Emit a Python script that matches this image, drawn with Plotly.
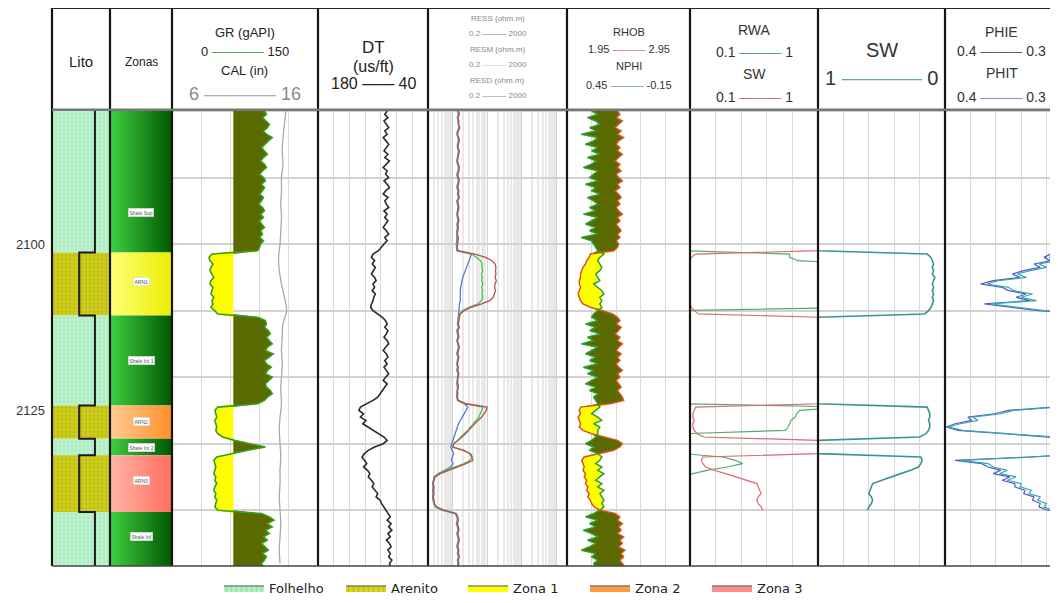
import numpy as np
import plotly.graph_objects as go

# ------------------------------------------------------------------ data
DEPTH = np.arange(2080.0, 2148.51, 0.5)          # log sample depths (m)
CAL_DEPTH = np.arange(2080.0, 2148.1, 2.0)       # caliper read every 2 m

ZONE_NAMES = ["Shale Sup", "ARN1", "Shale Int 1", "ARN2", "Shale Int 2", "ARN3", "Shale Inf"]
ZONE_TOPS = [2080.0, 2101.25, 2110.75, 2124.25, 2129.25, 2131.75, 2140.25]
ZONE_BASES = [2101.25, 2110.75, 2124.25, 2129.25, 2131.75, 2140.25, 2148.4]
ZONE_LITHO = ["Folhelho", "Arenito", "Folhelho", "Arenito", "Folhelho", "Arenito", "Folhelho"]
ZONE_CLASS = ["shale", "Zona 1", "shale", "Zona 2", "shale", "Zona 3", "shale"]
ZONE_LABEL_DEPTH = [2095.2, 2105.7, 2117.5, 2126.7, 2130.5, 2135.6, 2143.9]
LITHO_CURVE = {"Folhelho": 0.74, "Arenito": 0.47}   # lithology flag curve value

DEPTH_TICKS = [2100, 2125]

GR = [95, 97, 93, 96, 100, 98, 94, 97, 103, 99, 96, 92, 95, 98, 94, 91, 95, 97, 93, 90,
      94, 96, 92, 95, 93, 90, 94, 92, 89, 93, 95, 91, 94, 90, 92, 95, 91, 93, 90, 94,
      91, 90, 88,
      41, 38, 39, 42, 40, 39, 41, 43, 40, 39, 42, 41, 40, 43, 41, 42, 40, 44, 47,
      88, 96, 97, 95, 99, 101, 97, 100, 103, 98, 96, 104, 99, 95, 97, 102, 98, 96, 103, 99,
      96, 97, 101, 103, 98, 95, 88,
      47, 44, 45, 46, 44, 45, 46, 45, 47, 52,
      64, 80, 96, 78, 60,
      46, 43, 44, 45, 44, 43, 45, 44, 46, 44, 43, 45, 44, 46, 45, 44, 47,
      92, 100, 105, 98, 103, 96, 100, 94, 98, 92, 96, 99, 93, 97, 95, 92, 94]

CAL = [13.8, 13.7, 13.6, 13.55, 13.6, 13.5, 13.5, 13.45, 13.5, 13.45, 13.4, 13.3, 13.35,
       13.5, 13.7, 13.85, 13.6, 13.55, 13.5, 13.55, 13.5, 13.45, 13.5, 13.4, 13.35, 13.4,
       13.45, 13.4, 13.4, 13.35, 13.4, 13.45, 13.4, 13.35, 13.4]

DT = [92, 95, 91, 96, 93, 90, 95, 92, 97, 94, 90, 93, 96, 91, 95, 89, 93, 97, 92, 94,
      90, 96, 92, 89, 94, 97, 91, 95, 93, 90, 96, 92, 95, 91, 94, 97, 93, 90, 95, 92,
      96, 99, 103,
      110, 112, 108, 111, 107, 109, 112, 108, 106, 110, 108, 111, 107, 109, 110, 112, 113, 110, 104,
      98, 94, 92, 95, 91, 93, 96, 92, 90, 94, 97, 93, 91, 95, 92, 96, 93, 90, 94, 97,
      92, 95, 98, 100, 104, 110, 118,
      126, 128, 122, 126, 119, 123, 116, 110, 102, 96,
      92, 97, 108, 116, 121,
      124, 121, 118, 122, 117, 114, 116, 112, 109, 111, 107, 104, 106, 101, 99, 96, 93,
      91, 88, 92, 87, 90, 86, 91, 88, 93, 89, 87, 91, 88, 90, 86, 89, 88]

RESD = [1.5, 1.6, 1.45, 1.55, 1.5, 1.65, 1.5, 1.4, 1.55, 1.6, 1.5, 1.45, 1.6, 1.55, 1.5, 1.4,
        1.5, 1.6, 1.55, 1.45, 1.5, 1.6, 1.5, 1.45, 1.55, 1.5, 1.6, 1.45, 1.5, 1.55, 1.5, 1.4,
        1.5, 1.55, 1.45, 1.5, 1.45, 1.4, 1.5, 1.45, 1.4, 1.4, 1.45,
        4.5, 9, 14, 17, 18, 17.5, 18, 17, 18.5, 17, 16.5, 17.5, 16, 15, 12, 7, 3.5, 2.2, 1.7,
        1.6, 1.55, 1.5, 1.6, 1.45, 1.5, 1.55, 1.4, 1.5, 1.6, 1.5, 1.45, 1.55, 1.5, 1.4, 1.5,
        1.45, 1.55, 1.5, 1.4, 1.45, 1.5, 1.4, 1.45, 1.4, 1.5, 2.5,
        10, 9.5, 8, 7, 5.5, 4.5, 3.8, 3, 2.4, 1.9,
        1.5, 1.1, 1.05, 2.2, 3.2,
        3.6, 3.9, 2.5, 1.4, 0.7, 0.45, 0.32, 0.3, 0.28, 0.3, 0.29, 0.3, 0.28, 0.3, 0.31, 0.35, 0.6,
        1.3, 1.45, 1.5, 1.4, 1.5, 1.55, 1.45, 1.5, 1.6, 1.5, 1.45, 1.55, 1.5, 1.6, 1.5, 1.55, 1.5]

RESM = [1.45, 1.55, 1.4, 1.5, 1.5, 1.6, 1.45, 1.4, 1.5, 1.55, 1.45, 1.45, 1.55, 1.5, 1.45, 1.4,
        1.45, 1.55, 1.5, 1.4, 1.45, 1.55, 1.45, 1.4, 1.5, 1.45, 1.55, 1.4, 1.45, 1.5, 1.45, 1.4,
        1.45, 1.5, 1.4, 1.45, 1.4, 1.4, 1.45, 1.4, 1.35, 1.4, 1.4,
        3.7, 5, 6.5, 7.2, 7, 7.5, 6.8, 7.3, 7.0, 7.6, 6.9, 7.4, 7.1, 7.5, 6.8, 5.5, 3, 2, 1.6,
        1.55, 1.5, 1.45, 1.55, 1.4, 1.45, 1.5, 1.4, 1.45, 1.55, 1.45, 1.4, 1.5, 1.45, 1.4, 1.45,
        1.4, 1.5, 1.45, 1.4, 1.4, 1.45, 1.4, 1.4, 1.4, 1.45, 2.4,
        7.7, 7, 6.3, 5.8, 4.8, 4, 3.4, 2.8, 2.2, 1.8,
        1.4, 1.1, 1.0, 2.0, 3.4,
        3.8, 3.2, 2.2, 1.2, 0.65, 0.42, 0.3, 0.29, 0.28, 0.29, 0.28, 0.29, 0.28, 0.29, 0.3, 0.34, 0.55,
        1.25, 1.4, 1.45, 1.35, 1.45, 1.5, 1.4, 1.45, 1.55, 1.45, 1.4, 1.5, 1.45, 1.55, 1.45, 1.5, 1.45]

RESS = [1.4, 1.5, 1.4, 1.45, 1.45, 1.55, 1.4, 1.35, 1.45, 1.5, 1.4, 1.4, 1.5, 1.45, 1.4, 1.35,
        1.4, 1.5, 1.45, 1.35, 1.4, 1.5, 1.4, 1.35, 1.45, 1.4, 1.5, 1.35, 1.4, 1.45, 1.4, 1.35,
        1.4, 1.45, 1.35, 1.4, 1.35, 1.35, 1.4, 1.35, 1.3, 1.35, 1.35,
        3.6, 3.3, 3.0, 2.8, 2.6, 2.4, 2.2, 2.0, 1.9, 1.8, 1.75, 1.7, 1.7, 1.65, 1.7, 1.6, 1.6, 1.55, 1.5,
        1.5, 1.45, 1.4, 1.5, 1.35, 1.4, 1.45, 1.35, 1.4, 1.5, 1.4, 1.35, 1.45, 1.4, 1.35, 1.4,
        1.35, 1.45, 1.4, 1.35, 1.35, 1.4, 1.35, 1.35, 1.35, 1.4, 2.2,
        2.8, 2.5, 2.2, 1.9, 1.7, 1.5, 1.4, 1.3, 1.2, 1.1,
        1.05, 0.95, 0.9, 1.0, 1.1,
        1.0, 0.95, 1.05, 0.9, 0.6, 0.4, 0.3, 0.28, 0.27, 0.28, 0.27, 0.28, 0.27, 0.28, 0.29, 0.33, 0.5,
        1.2, 1.35, 1.4, 1.3, 1.4, 1.45, 1.35, 1.4, 1.5, 1.4, 1.35, 1.45, 1.4, 1.5, 1.4, 1.45, 1.4]

RHOB = [2.36, 2.38, 2.35, 2.40, 2.37, 2.34, 2.39, 2.36, 2.41, 2.37, 2.35, 2.38, 2.36, 2.40, 2.37,
        2.34, 2.38, 2.36, 2.39, 2.35, 2.37, 2.40, 2.36, 2.38, 2.34, 2.37, 2.39, 2.36, 2.38, 2.35,
        2.37, 2.40, 2.36, 2.38, 2.35, 2.37, 2.39, 2.36, 2.38, 2.35, 2.37, 2.36, 2.33,
        2.14, 2.13, 2.11, 2.10, 2.08, 2.07, 2.06, 2.06, 2.05, 2.05, 2.06, 2.05, 2.04, 2.05, 2.06,
        2.08, 2.14, 2.24, 2.32,
        2.36, 2.38, 2.35, 2.39, 2.37, 2.34, 2.38, 2.36, 2.40, 2.37, 2.35, 2.39, 2.36, 2.38, 2.35,
        2.37, 2.40, 2.36, 2.38, 2.35, 2.37, 2.39, 2.36, 2.38, 2.40, 2.41, 2.30,
        2.06, 2.05, 2.06, 2.04, 2.05, 2.06, 2.05, 2.08, 2.15, 2.25,
        2.36, 2.40, 2.38, 2.33, 2.20,
        2.09, 2.07, 2.08, 2.09, 2.08, 2.10, 2.09, 2.11, 2.10, 2.12, 2.11, 2.13, 2.12, 2.14, 2.15,
        2.17, 2.22,
        2.34, 2.38, 2.36, 2.40, 2.37, 2.39, 2.36, 2.41, 2.38, 2.40, 2.37, 2.42, 2.39, 2.41, 2.38,
        2.40, 2.42]

NPHI = [0.33, 0.30, 0.35, 0.31, 0.29, 0.34, 0.31, 0.38, 0.30, 0.32, 0.36, 0.30, 0.33, 0.29, 0.35,
        0.31, 0.33, 0.37, 0.30, 0.32, 0.34, 0.30, 0.36, 0.31, 0.33, 0.29, 0.35, 0.32, 0.30, 0.34,
        0.31, 0.37, 0.30, 0.33, 0.36, 0.31, 0.34, 0.30, 0.38, 0.33, 0.32, 0.31, 0.30,
        0.27, 0.29, 0.30, 0.29, 0.28, 0.29, 0.31, 0.30, 0.29, 0.32, 0.30, 0.28, 0.27, 0.29, 0.28,
        0.29, 0.28, 0.30, 0.32,
        0.33, 0.30, 0.36, 0.31, 0.34, 0.29, 0.35, 0.32, 0.38, 0.30, 0.33, 0.36, 0.31, 0.34, 0.30,
        0.37, 0.32, 0.35, 0.30, 0.33, 0.36, 0.31, 0.34, 0.30, 0.32, 0.31, 0.30,
        0.29, 0.31, 0.33, 0.30, 0.28, 0.32, 0.29, 0.30, 0.30, 0.31,
        0.33, 0.36, 0.32, 0.34, 0.30,
        0.28, 0.29, 0.31, 0.28, 0.30, 0.27, 0.29, 0.31, 0.28, 0.30, 0.27, 0.29, 0.28, 0.27, 0.28,
        0.27, 0.29,
        0.32, 0.36, 0.30, 0.34, 0.31, 0.37, 0.33, 0.30, 0.35, 0.31, 0.34, 0.38, 0.31, 0.33, 0.30,
        0.32, 0.31]

# Water saturation (shown in RWA/SW track and in SW track)
SW_DEPTH = [2080.0, 2101.0,
            2101.5, 2102.0, 2102.5, 2103.0, 2103.5, 2104.0, 2104.5, 2105.0, 2105.5, 2106.0,
            2106.5, 2107.0, 2107.5, 2108.0, 2108.5, 2109.0, 2109.5, 2110.0, 2110.5,
            2111.0, 2124.0,
            2124.5, 2125.0, 2125.5, 2126.0, 2126.5, 2127.0, 2127.5, 2128.0, 2128.5, 2129.0,
            2129.5, 2131.5,
            2132.0, 2132.5, 2133.0, 2133.5, 2134.0, 2134.5, 2135.0, 2135.5, 2136.0, 2136.5,
            2137.0, 2137.5, 2138.0, 2138.5, 2139.0, 2139.5, 2140.0]
SW = [1.0, 1.0,
      0.14, 0.11, 0.10, 0.09, 0.10, 0.09, 0.10, 0.08, 0.09, 0.10,
      0.09, 0.10, 0.09, 0.10, 0.09, 0.10, 0.11, 0.13, 0.16,
      1.0, 1.0,
      0.14, 0.13, 0.12, 0.12, 0.13, 0.12, 0.12, 0.13, 0.15, 0.20,
      1.0, 1.0,
      0.19, 0.18, 0.19, 0.21, 0.27, 0.35, 0.42, 0.50, 0.57, 0.58,
      0.59, 0.60, 0.58, 0.57, 0.58, 0.60, 0.61]

RWA_DEPTH = [2101.0, 2101.5, 2102.0, 2102.5, 2103.0, 2109.5, 2110.0, None,
             2124.0, 2124.5, 2125.0, 2125.5, 2126.0, 2126.5, 2127.0, 2127.5, 2128.0, 2128.5, None,
             2131.5, 2132.0, 2132.5, 2133.0, 2133.5, 2134.0, 2134.5, 2135.0]
RWA = [0.05, 0.80, 0.80, 0.86, 1.3, 1.3, 0.05, None,
       0.05, 1.2, 0.87, 0.85, 0.84, 0.81, 0.80, 0.79, 0.77, 0.05, None,
       0.05, 0.33, 0.42, 0.47, 0.36, 0.22, 0.12, 0.05]

PHI_DEPTH = [2101.0, 2101.5, 2102.0, 2102.5, 2103.0, 2103.5, 2104.0, 2104.5, 2105.0, 2105.5,
             2106.0, 2106.5, 2107.0, 2107.5, 2108.0, 2108.5, 2109.0, 2109.5, 2110.0, 2110.5, None,
             2124.0, 2124.5, 2125.0, 2125.5, 2126.0, 2126.5, 2127.0, 2127.5, 2128.0, 2128.5,
             2129.0, 2129.5, None,
             2131.5, 2132.0, 2132.5, 2133.0, 2133.5, 2134.0, 2134.5, 2135.0, 2135.5, 2136.0,
             2136.5, 2137.0, 2137.5, 2138.0, 2138.5, 2139.0, 2139.5, 2140.0, 2140.5]
PHIE = [0.29, 0.313, 0.318, 0.312, 0.326, 0.320, 0.333, 0.343, 0.336, 0.358,
        0.367, 0.350, 0.346, 0.331, 0.340, 0.328, 0.364, 0.341, 0.322, 0.29, None,
        0.29, 0.312, 0.346, 0.356, 0.378, 0.374, 0.388, 0.397, 0.386, 0.346, 0.314, 0.29, None,
        0.29, 0.33, 0.388, 0.366, 0.362, 0.351, 0.357, 0.344, 0.351, 0.340,
        0.341, 0.332, 0.334, 0.325, 0.327, 0.320, 0.322, 0.315, 0.29]
PHIT = [0.29, 0.317, 0.322, 0.317, 0.330, 0.325, 0.338, 0.347, 0.341, 0.362,
        0.372, 0.355, 0.350, 0.336, 0.344, 0.333, 0.369, 0.346, 0.326, 0.29, None,
        0.29, 0.315, 0.350, 0.361, 0.382, 0.379, 0.392, 0.399, 0.390, 0.350, 0.318, 0.29, None,
        0.29, 0.334, 0.392, 0.371, 0.366, 0.356, 0.362, 0.349, 0.355, 0.345,
        0.345, 0.337, 0.338, 0.330, 0.331, 0.325, 0.326, 0.319, 0.29]

GR_CUTOFF = 63.0          # shale / sand baseline for GR shading

for arr in (GR, DT, RESD, RESM, RESS, RHOB, NPHI):
    assert len(arr) == len(DEPTH), len(arr)

# ------------------------------------------------------------------ layout geometry
# page body has an 8 px margin; the figure is sized to fill the rest of the window
PAGE_OFF = 8
W, H = 1058 - PAGE_OFF, 603 - PAGE_OFF
EDGES = [52, 110, 172, 318, 428, 567, 690, 818, 945, 1058]   # track borders (window px)
HDR_TOP, DATA_TOP, DATA_BOT = 8, 110, 568
Y_RANGE = [2148.4, 2079.8]


def fx(p):
    return (p - PAGE_OFF) / W


def fy(p):
    return 1 - (p - PAGE_OFF) / H


# colours
OLIVE = "#5a6a00"
GR_LINE = "#3c9c1c"
YELLOW = "#ffff00"
FOL_BG, FOL_FG = "#aaecbe", "#e4fff0"
ARE_BG, ARE_FG = "#d4d420", "#9c9c00"
ZONE_GRAD = {"shale": ["#3fd03f", "#005800"], "Zona 1": ["#ffff78", "#ecec00"],
             "Zona 2": ["#ffcc94", "#ff9028"], "Zona 3": ["#ffb6a6", "#ff6e60"]}
LEG_COL = {"Zona 1": "#ffff00", "Zona 2": "#ff9a3c", "Zona 3": "#ff8a8a"}
GRID = "#d9d9d9"

fig = go.Figure()

# legend-only entries
for name, bg, fg in [("Folhelho", "#b4f0bc", "#86d08e"), ("Arenito", "#d8d820", "#a8a800")]:
    fig.add_trace(go.Scatter(x=[None], y=[None], mode="lines", fill="toself", name=name,
                             fillcolor=bg, line=dict(color="#555", width=1),
                             fillpattern=dict(shape="|", bgcolor=bg, fgcolor=fg, size=5, solidity=0.3),
                             xaxis="x", yaxis="y", hoverinfo="skip"))
for name in ["Zona 1", "Zona 2", "Zona 3"]:
    fig.add_trace(go.Scatter(x=[None], y=[None], mode="lines", fill="toself", name=name,
                             fillcolor=LEG_COL[name], line=dict(color="#555", width=1),
                             xaxis="x", yaxis="y", hoverinfo="skip"))

# ---- Track 1: lithology
for top, base, lit in zip(ZONE_TOPS, ZONE_BASES, ZONE_LITHO):
    bg, fg = (FOL_BG, FOL_FG) if lit == "Folhelho" else (ARE_BG, ARE_FG)
    fig.add_trace(go.Scatter(x=[0, 1, 1, 0, 0], y=[top, top, base, base, top], mode="lines",
                             fill="toself", fillcolor=bg, line=dict(width=0),
                             fillpattern=dict(shape="+", bgcolor=bg, fgcolor=fg, size=4, solidity=0.45),
                             showlegend=False, xaxis="x", yaxis="y", hoverinfo="skip"))
lx, ly = [], []
for top, base, lit in zip(ZONE_TOPS, ZONE_BASES, ZONE_LITHO):
    lx += [LITHO_CURVE[lit], LITHO_CURVE[lit]]
    ly += [top, base]
fig.add_trace(go.Scatter(x=lx, y=ly, mode="lines", line=dict(color="#1a1a1a", width=2),
                         showlegend=False, xaxis="x", yaxis="y"))

# ---- Track 2: zones
for top, base, cls in zip(ZONE_TOPS, ZONE_BASES, ZONE_CLASS):
    c0, c1 = ZONE_GRAD[cls]
    fig.add_trace(go.Scatter(x=[0, 1, 1, 0, 0], y=[top, top, base, base, top], mode="lines",
                             fill="toself", fillcolor=c1, line=dict(width=0),
                             fillgradient=dict(type="horizontal", colorscale=[[0, c0], [1, c1]]),
                             showlegend=False, xaxis="x2", yaxis="y2", hoverinfo="skip"))

# ---- Track 3: GR + CAL
gr = np.array(GR, dtype=float)
base_line = np.full(len(DEPTH), GR_CUTOFF)
poly_y = np.concatenate([DEPTH, DEPTH[::-1]])
fig.add_trace(go.Scatter(x=np.concatenate([np.maximum(gr, GR_CUTOFF), base_line[::-1]]), y=poly_y,
                         mode="lines", fill="toself", fillcolor=OLIVE, line=dict(width=0),
                         showlegend=False, xaxis="x3", yaxis="y3", hoverinfo="skip"))
fig.add_trace(go.Scatter(x=np.concatenate([np.minimum(gr, GR_CUTOFF), base_line[::-1]]), y=poly_y,
                         mode="lines", fill="toself", fillcolor=YELLOW, line=dict(width=0),
                         showlegend=False, xaxis="x3", yaxis="y3", hoverinfo="skip"))
fig.add_trace(go.Scatter(x=GR, y=DEPTH, mode="lines", line=dict(color=GR_LINE, width=1.6),
                         showlegend=False, xaxis="x3", yaxis="y3"))
fig.add_trace(go.Scatter(x=CAL, y=CAL_DEPTH, mode="lines",
                         line=dict(color="#a8a8a8", width=1.3, shape="spline"),
                         showlegend=False, xaxis="x10", yaxis="y3"))

# ---- Track 4: DT
fig.add_trace(go.Scatter(x=DT, y=DEPTH, mode="lines", line=dict(color="#2a2a2a", width=1.6),
                         showlegend=False, xaxis="x4", yaxis="y4"))

# ---- Track 5: resistivities
for arr, col in [(RESS, "#5a7ad0"), (RESM, "#48c048"), (RESD, "#b8505a")]:
    fig.add_trace(go.Scatter(x=arr, y=DEPTH, mode="lines", line=dict(color=col, width=1.3),
                             showlegend=False, xaxis="x5", yaxis="y5"))

# ---- Track 6: RHOB / NPHI with crossover shading
rhob = np.array(RHOB)
nphi_on_rhob = 1.95 + (0.45 - np.array(NPHI)) / 0.6 * 1.0   # NPHI expressed on RHOB scale
fig.add_trace(go.Scatter(x=np.concatenate([rhob, np.minimum(nphi_on_rhob, rhob)[::-1]]), y=poly_y,
                         mode="lines", fill="toself", fillcolor=OLIVE, line=dict(width=0),
                         showlegend=False, xaxis="x6", yaxis="y6", hoverinfo="skip"))
fig.add_trace(go.Scatter(x=np.concatenate([rhob, np.maximum(nphi_on_rhob, rhob)[::-1]]), y=poly_y,
                         mode="lines", fill="toself", fillcolor=YELLOW, line=dict(width=0),
                         showlegend=False, xaxis="x6", yaxis="y6", hoverinfo="skip"))
fig.add_trace(go.Scatter(x=NPHI, y=DEPTH, mode="lines", line=dict(color="#2e9e2e", width=1.5),
                         showlegend=False, xaxis="x11", yaxis="y6"))
fig.add_trace(go.Scatter(x=RHOB, y=DEPTH, mode="lines", line=dict(color="#d9541e", width=1.5),
                         showlegend=False, xaxis="x6", yaxis="y6"))

# ---- Track 7: RWA + SW
fig.add_trace(go.Scatter(x=RWA, y=RWA_DEPTH, mode="lines", line=dict(color="#58a870", width=1.2),
                         showlegend=False, xaxis="x7", yaxis="y7"))
fig.add_trace(go.Scatter(x=SW, y=SW_DEPTH, mode="lines", line=dict(color="#d86a72", width=1.2),
                         showlegend=False, xaxis="x7", yaxis="y7"))

# ---- Track 8: SW
fig.add_trace(go.Scatter(x=SW, y=SW_DEPTH, mode="lines", line=dict(color="#3a9494", width=1.6),
                         showlegend=False, xaxis="x8", yaxis="y8"))

# ---- Track 9: PHIE / PHIT
fig.add_trace(go.Scatter(x=PHIT, y=PHI_DEPTH, mode="lines", line=dict(color="#4a5cc0", width=1.2),
                         showlegend=False, xaxis="x9", yaxis="y9"))
fig.add_trace(go.Scatter(x=PHIE, y=PHI_DEPTH, mode="lines", line=dict(color="#3aa6b0", width=1.2),
                         showlegend=False, xaxis="x9", yaxis="y9"))

# ------------------------------------------------------------------ axes
x_specs = {
    1: dict(range=[0, 1], showgrid=False),
    2: dict(range=[0, 1], showgrid=False),
    3: dict(range=[0, 150], tick0=0, dtick=30),
    4: dict(range=[180, 40], tick0=40, dtick=20),
    5: dict(type="log", range=[np.log10(0.2), np.log10(2000)], dtick=1, gridcolor="#d0d0d0",
            minor=dict(showgrid=True, dtick="D1", gridcolor="#e9e9e9", gridwidth=1.6)),
    6: dict(range=[1.95, 2.95], tick0=1.95, dtick=0.2),
    7: dict(range=[0.1, 1.0], tick0=0.1, dtick=0.18),
    8: dict(range=[1, 0], tick0=0, dtick=0.2),
    9: dict(range=[0.4, 0.4 - 0.1 * 113 / 127], tick0=0.4, dtick=0.02),
}
lay = {}
for i in range(1, 10):
    spec = dict(domain=[fx(EDGES[i - 1]), fx(EDGES[i])], anchor=f"y{i}" if i > 1 else "y",
                showticklabels=False, ticks="", zeroline=False, showline=False,
                showgrid=True, gridcolor=GRID, gridwidth=1.2, fixedrange=True)
    spec.update(x_specs[i])
    lay["xaxis" if i == 1 else f"xaxis{i}"] = spec
    yspec = dict(domain=[fy(DATA_BOT), fy(DATA_TOP)], range=Y_RANGE, autorange=False,
                 anchor="x" if i == 1 else f"x{i}", zeroline=False, showline=False, ticks="",
                 fixedrange=True)
    if i == 1:
        yspec.update(tickvals=DEPTH_TICKS, showticklabels=True, showgrid=False, ticklabelstandoff=6,
                     tickfont=dict(size=13, color="#333", family="Liberation Sans, Arial"))
    else:
        yspec.update(matches="y", showticklabels=False,
                     showgrid=i > 2, tick0=2080, dtick=10, gridcolor="#d2d2d2", gridwidth=1.5)
    lay["yaxis" if i == 1 else f"yaxis{i}"] = yspec

lay["xaxis10"] = dict(overlaying="x3", anchor="y3", range=[6, 16], visible=False, fixedrange=True)
lay["xaxis11"] = dict(overlaying="x6", anchor="y6", range=[0.45, -0.15], visible=False, fixedrange=True)

# ------------------------------------------------------------------ frame
shapes = []
for e in EDGES:
    shapes.append(dict(type="line", xref="paper", yref="paper", x0=fx(e), x1=fx(e),
                       y0=fy(HDR_TOP), y1=fy(DATA_BOT), line=dict(color="#151515", width=2.2)))
shapes.append(dict(type="line", xref="paper", yref="paper", x0=fx(EDGES[0]), x1=1,
                   y0=fy(HDR_TOP), y1=fy(HDR_TOP), line=dict(color="#222", width=2)))
shapes.append(dict(type="line", xref="paper", yref="paper", x0=fx(EDGES[0]), x1=1,
                   y0=fy(DATA_TOP), y1=fy(DATA_TOP), line=dict(color="#777", width=2.5)))
shapes.append(dict(type="line", xref="paper", yref="paper", x0=fx(EDGES[0]), x1=1,
                   y0=fy(DATA_BOT), y1=fy(DATA_BOT), line=dict(color="#444", width=1.5)))


# ------------------------------------------------------------------ header text
def dash(color, n=3):
    return f"<span style='color:{color}'>{'—' * n}</span>"


def mid(i):
    return (EDGES[i] + EDGES[i + 1]) / 2


HEADERS = [
    (0, 62, "Lito", 15, "#222"),
    (1, 62, "Zonas", 12, "#222"),
    (2, 33, "GR (gAPI)", 13, "#222"),
    (2, 52, "0 " + dash("#5aa85a", 4) + " 150", 13, "#222"),
    (2, 71, "CAL (in)", 13, "#222"),
    (2, 94, "6 " + dash("#b0b0b0", 4) + " 16", 18, "#8a8a8a"),
    (3, 48, "DT", 17, "#222"),
    (3, 67, "(us/ft)", 16, "#222"),
    (3, 84, "180 " + dash("#222", 2) + " 40", 16, "#222"),
    (4, 19, "RESS (ohm.m)", 8, "#888"),
    (4, 34, "0.2 " + dash("#777", 3) + " 2000", 8, "#888"),
    (4, 50, "RESM (ohm.m)", 8, "#888"),
    (4, 65, "0.2 " + dash("#a8dca8", 3) + " 2000", 8, "#888"),
    (4, 81, "RESD (ohm.m)", 8, "#888"),
    (4, 96, "0.2 " + dash("#888", 3) + " 2000", 8, "#888"),
    (5, 32, "RHOB", 11, "#333"),
    (5, 49, "1.95 " + dash("#e07070", 3) + " 2.95", 11, "#333"),
    (5, 66, "NPHI", 11, "#333"),
    (5, 85, "0.45 " + dash("#70b070", 3) + " -0.15", 11, "#333"),
    (6, 30, "RWA", 14, "#333"),
    (6, 52, "0.1 " + dash("#58a870", 3) + " 1", 14, "#333"),
    (6, 74, "SW", 14, "#333"),
    (6, 97, "0.1 " + dash("#d86a72", 3) + " 1", 14, "#333"),
    (7, 50, "SW", 20, "#333"),
    (7, 78, "1 " + dash("#5aacac", 4) + " 0", 20, "#333"),
    (8, 32, "PHIE", 14, "#333"),
    (8, 51, "0.4 " + dash("#55606a", 3) + " 0.3", 14, "#333"),
    (8, 73, "PHIT", 14, "#333"),
    (8, 97, "0.4 " + dash("#8c8cc8", 3) + " 0.3", 14, "#333"),
]
annotations = []
for i, ypx, txt, size, col in HEADERS:
    annotations.append(dict(x=fx(mid(i)), y=fy(ypx), xref="paper", yref="paper", text=txt,
                            showarrow=False, xanchor="center", yanchor="middle",
                            font=dict(size=size, color=col, family="Liberation Sans, Arial")))
for name, d in zip(ZONE_NAMES, ZONE_LABEL_DEPTH):
    annotations.append(dict(x=0.5, y=d, xref="x2", yref="y2", text=name, showarrow=False,
                            font=dict(size=5, color="#555", family="Liberation Sans, Arial"),
                            bgcolor="white", bordercolor="#cccccc", borderwidth=0.5, borderpad=1))

fig.update_layout(
    width=W, height=H, margin=dict(l=0, r=0, t=0, b=0),
    paper_bgcolor="white", plot_bgcolor="white",
    font=dict(family="Liberation Sans, Arial", color="#222"),
    shapes=shapes, annotations=annotations,
    showlegend=True,
    legend=dict(orientation="h", x=fx(219), y=fy(590), xanchor="left", yanchor="middle",
                font=dict(size=13, family="DejaVu Sans", color="#222"),
                bgcolor="rgba(0,0,0,0)", itemwidth=40, traceorder="normal",
                entrywidth=67, entrywidthmode="pixels"),
    **lay,
)

fig.write_html("out.html")
